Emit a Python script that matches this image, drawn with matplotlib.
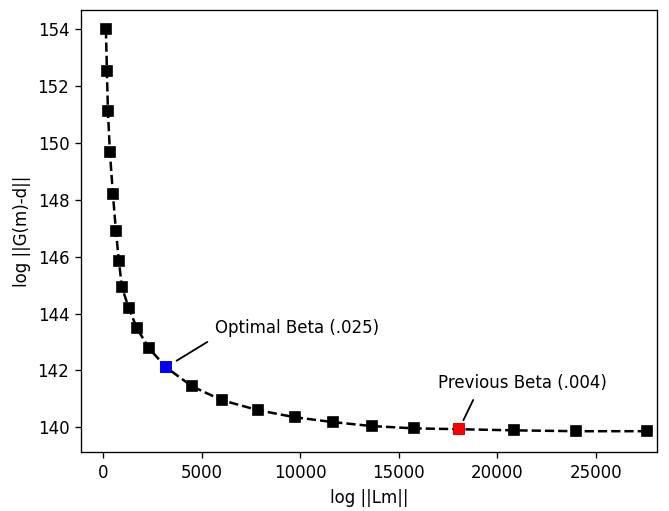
import numpy as np
import matplotlib
matplotlib.use('Agg')
import matplotlib.pyplot as plt

# L-curve points
lm_norm = [137, 188, 239, 340, 492, 645, 797, 949, 1305, 1711, 2320, 3183,
           4503, 6025, 7853, 9731, 11660, 13640, 15772, 18056, 20848, 23995, 27599]
misfit = [154.0, 152.52, 151.11, 149.67, 148.2, 146.9, 145.84, 144.92, 144.18,
          143.48, 142.78, 142.11, 141.44, 140.95, 140.6, 140.35, 140.18, 140.04,
          139.96, 139.93, 139.89, 139.86, 139.86]
i_opt = 11    # optimal beta (.025)
i_prev = 19   # previous beta (.004)

dpi = 120
fig = plt.figure(figsize=(669 / dpi, 511 / dpi), dpi=dpi)
ax = fig.add_axes([0.121, 0.115, 0.861, 0.865])

ax.plot(lm_norm, misfit, 'k--s')
ax.plot(lm_norm[i_opt], misfit[i_opt], 's', color='blue')
ax.plot(lm_norm[i_prev], misfit[i_prev], 's', color='red')

ax.annotate('Optimal Beta (.025)', xy=(lm_norm[i_opt], misfit[i_opt]),
            xytext=(5670, 143.48), ha='left', va='center',
            arrowprops=dict(arrowstyle='-', color='k', lw=1.1, relpos=(0, 0),
                            shrinkA=3, shrinkB=7.5))
ax.annotate('Previous Beta (.004)', xy=(lm_norm[i_prev], misfit[i_prev]),
            xytext=(21280, 141.55), ha='center', va='center',
            arrowprops=dict(arrowstyle='-', color='k', lw=1.1, relpos=(0.23, 0),
                            shrinkA=3, shrinkB=6))

ax.set_xlim(-1130, 28100)
ax.set_ylim(139.12, 154.67)
ax.set_xticks([0, 5000, 10000, 15000, 20000, 25000])
ax.set_yticks(np.arange(140, 155, 2))
ax.set_xlabel('log ||Lm||')
ax.set_ylabel('log ||G(m)-d||')

fig.savefig('out.png', dpi=dpi)
